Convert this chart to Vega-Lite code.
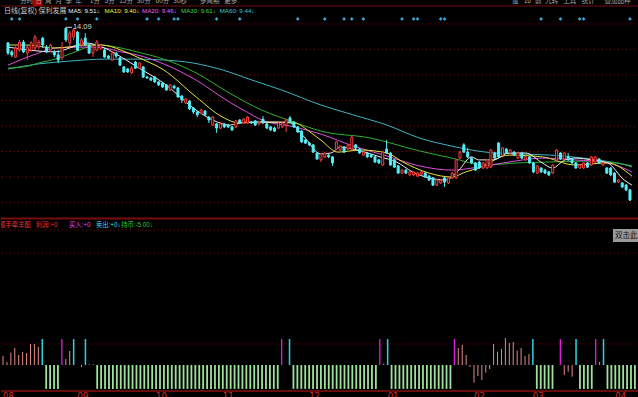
{
"$schema": "https://vega.github.io/schema/vega-lite/v6.json",
"background": "#000000",
"padding": 0,
"spacing": 0,
"config": {"view": {"stroke": null}, "text": {"font": "Liberation Sans, Noto Sans CJK SC"}},
"datasets": {
"candles": [
{"i":0,"o":13.57,"h":13.6,"l":13.17,"c":13.23},{"i":1,"o":13.27,"h":13.33,"l":13.1,"c":13.17},{"i":2,"o":13.1,"h":13.47,"l":13.07,"c":13.4},{"i":3,"o":13.33,"h":13.67,"l":13.27,"c":13.6},{"i":4,"o":13.6,"h":13.67,"l":13.23,"c":13.27},{"i":5,"o":13.23,"h":13.5,"l":13.0,"c":13.43},{"i":6,"o":13.33,"h":13.63,"l":13.27,"c":13.57},{"i":7,"o":13.4,"h":13.83,"l":13.33,"c":13.77},{"i":8,"o":13.43,"h":13.67,"l":13.37,"c":13.6},{"i":9,"o":13.73,"h":13.77,"l":13.4,"c":13.5},
{"i":10,"o":13.43,"h":13.5,"l":13.23,"c":13.27},{"i":11,"o":13.33,"h":13.53,"l":13.27,"c":13.5},{"i":12,"o":13.27,"h":13.33,"l":13.1,"c":13.17},{"i":13,"o":13.17,"h":13.33,"l":12.9,"c":13.0},{"i":14,"o":13.07,"h":13.6,"l":13.0,"c":13.4},{"i":15,"o":14.05,"h":14.09,"l":13.6,"c":13.67},{"i":16,"o":13.57,"h":13.97,"l":13.43,"c":13.9},{"i":17,"o":13.77,"h":14.07,"l":13.67,"c":14.0},{"i":18,"o":13.93,"h":13.97,"l":13.3,"c":13.33},{"i":19,"o":13.5,"h":13.73,"l":13.43,"c":13.67},
{"i":20,"o":13.73,"h":13.9,"l":13.47,"c":13.5},{"i":21,"o":13.5,"h":13.53,"l":13.2,"c":13.23},{"i":22,"o":13.23,"h":13.5,"l":13.1,"c":13.43},{"i":23,"o":13.33,"h":13.67,"l":13.3,"c":13.6},{"i":24,"o":13.4,"h":13.53,"l":13.33,"c":13.5},{"i":25,"o":13.33,"h":13.4,"l":13.07,"c":13.1},{"i":26,"o":13.13,"h":13.17,"l":13.03,"c":13.07},{"i":27,"o":13.0,"h":13.3,"l":12.97,"c":13.23},{"i":28,"o":13.23,"h":13.27,"l":13.07,"c":13.13},{"i":29,"o":13.07,"h":13.1,"l":12.8,"c":12.83},
{"i":30,"o":12.77,"h":12.8,"l":12.57,"c":12.6},{"i":31,"o":12.7,"h":12.73,"l":12.57,"c":12.6},{"i":32,"o":12.57,"h":12.8,"l":12.53,"c":12.73},{"i":33,"o":12.93,"h":12.97,"l":12.7,"c":12.73},{"i":34,"o":12.73,"h":12.93,"l":12.7,"c":12.9},{"i":35,"o":12.77,"h":12.8,"l":12.4,"c":12.43},{"i":36,"o":12.43,"h":12.47,"l":12.37,"c":12.4},{"i":37,"o":12.4,"h":12.43,"l":12.3,"c":12.33},{"i":38,"o":12.43,"h":12.47,"l":12.23,"c":12.27},{"i":39,"o":12.27,"h":12.3,"l":12.13,"c":12.17},
{"i":40,"o":12.23,"h":12.27,"l":12.07,"c":12.1},{"i":41,"o":12.17,"h":12.2,"l":11.97,"c":12.0},{"i":42,"o":12.0,"h":12.2,"l":11.97,"c":12.17},{"i":43,"o":12.13,"h":12.17,"l":12.03,"c":12.07},{"i":44,"o":12.07,"h":12.1,"l":11.73,"c":11.77},{"i":45,"o":11.8,"h":11.83,"l":11.57,"c":11.67},{"i":46,"o":11.57,"h":11.73,"l":11.53,"c":11.7},{"i":47,"o":11.63,"h":11.67,"l":11.33,"c":11.37},{"i":48,"o":11.4,"h":11.43,"l":11.2,"c":11.27},{"i":49,"o":11.27,"h":11.3,"l":11.1,"c":11.17},
{"i":50,"o":11.23,"h":11.37,"l":11.2,"c":11.33},{"i":51,"o":11.3,"h":11.33,"l":11.13,"c":11.17},{"i":52,"o":11.1,"h":11.13,"l":10.9,"c":11.0},{"i":53,"o":10.83,"h":11.13,"l":10.8,"c":11.1},{"i":54,"o":10.87,"h":10.9,"l":10.57,"c":10.73},{"i":55,"o":10.73,"h":10.93,"l":10.7,"c":10.87},{"i":56,"o":10.87,"h":10.9,"l":10.73,"c":10.77},{"i":57,"o":10.83,"h":10.87,"l":10.73,"c":10.77},{"i":58,"o":10.77,"h":10.8,"l":10.63,"c":10.67},{"i":59,"o":10.77,"h":11.0,"l":10.73,"c":10.97},
{"i":60,"o":11.0,"h":11.03,"l":10.87,"c":10.9},{"i":61,"o":10.9,"h":11.07,"l":10.87,"c":11.03},{"i":62,"o":10.9,"h":11.13,"l":10.87,"c":11.1},{"i":63,"o":10.93,"h":10.97,"l":10.87,"c":10.9},{"i":64,"o":10.97,"h":11.0,"l":10.8,"c":10.83},{"i":65,"o":10.87,"h":10.97,"l":10.83,"c":10.93},{"i":66,"o":11.03,"h":11.13,"l":10.87,"c":10.9},{"i":67,"o":10.87,"h":10.9,"l":10.7,"c":10.73},{"i":68,"o":10.77,"h":10.8,"l":10.63,"c":10.67},{"i":69,"o":10.73,"h":10.77,"l":10.6,"c":10.63},
{"i":70,"o":10.73,"h":10.93,"l":10.7,"c":10.9},{"i":71,"o":10.77,"h":10.93,"l":10.73,"c":10.9},{"i":72,"o":10.83,"h":11.03,"l":10.6,"c":11.0},{"i":73,"o":11.07,"h":11.13,"l":10.9,"c":10.93},{"i":74,"o":10.93,"h":10.97,"l":10.73,"c":10.77},{"i":75,"o":10.77,"h":10.8,"l":10.57,"c":10.6},{"i":76,"o":10.63,"h":10.67,"l":10.23,"c":10.27},{"i":77,"o":10.33,"h":10.37,"l":10.2,"c":10.23},{"i":78,"o":10.23,"h":10.27,"l":10.13,"c":10.17},{"i":79,"o":10.17,"h":10.2,"l":9.9,"c":9.93},
{"i":80,"o":9.9,"h":9.93,"l":9.67,"c":9.7},{"i":81,"o":9.67,"h":9.9,"l":9.6,"c":9.87},{"i":82,"o":9.77,"h":9.93,"l":9.73,"c":9.9},{"i":83,"o":9.83,"h":9.87,"l":9.73,"c":9.77},{"i":84,"o":9.77,"h":9.8,"l":9.47,"c":9.57},{"i":85,"o":10.03,"h":10.3,"l":10.0,"c":10.27},{"i":86,"o":10.0,"h":10.17,"l":9.97,"c":10.13},{"i":87,"o":10.1,"h":10.13,"l":9.9,"c":9.93},{"i":88,"o":10.03,"h":10.2,"l":10.0,"c":10.17},{"i":89,"o":10.03,"h":10.47,"l":10.0,"c":10.43},
{"i":90,"o":10.17,"h":10.2,"l":10.03,"c":10.07},{"i":91,"o":10.03,"h":10.07,"l":9.87,"c":9.9},{"i":92,"o":9.83,"h":9.97,"l":9.8,"c":9.93},{"i":93,"o":9.9,"h":9.93,"l":9.73,"c":9.77},{"i":94,"o":9.83,"h":9.87,"l":9.73,"c":9.77},{"i":95,"o":9.77,"h":9.8,"l":9.57,"c":9.6},{"i":96,"o":9.67,"h":9.7,"l":9.53,"c":9.57},{"i":97,"o":9.5,"h":9.97,"l":9.47,"c":9.93},{"i":98,"o":10.03,"h":10.33,"l":9.87,"c":9.9},{"i":99,"o":9.9,"h":9.93,"l":9.47,"c":9.5},
{"i":100,"o":9.67,"h":9.7,"l":9.4,"c":9.43},{"i":101,"o":9.47,"h":9.5,"l":9.2,"c":9.23},{"i":102,"o":9.23,"h":9.37,"l":9.2,"c":9.33},{"i":103,"o":9.33,"h":9.37,"l":9.2,"c":9.23},{"i":104,"o":9.17,"h":9.3,"l":9.13,"c":9.27},{"i":105,"o":9.17,"h":9.3,"l":9.13,"c":9.27},{"i":106,"o":9.13,"h":9.27,"l":9.1,"c":9.23},{"i":107,"o":9.2,"h":9.3,"l":9.17,"c":9.27},{"i":108,"o":9.23,"h":9.27,"l":9.07,"c":9.1},{"i":109,"o":9.13,"h":9.17,"l":8.97,"c":9.0},
{"i":110,"o":9.07,"h":9.1,"l":8.8,"c":8.83},{"i":111,"o":8.83,"h":9.03,"l":8.8,"c":9.0},{"i":112,"o":8.9,"h":9.03,"l":8.87,"c":9.0},{"i":113,"o":9.07,"h":9.1,"l":8.77,"c":8.93},{"i":114,"o":8.9,"h":9.1,"l":8.87,"c":9.07},{"i":115,"o":9.07,"h":9.27,"l":9.03,"c":9.23},{"i":116,"o":9.07,"h":9.7,"l":9.03,"c":9.67},{"i":117,"o":9.73,"h":9.97,"l":9.7,"c":9.93},{"i":118,"o":10.17,"h":10.23,"l":9.9,"c":9.93},{"i":119,"o":9.93,"h":10.07,"l":9.73,"c":9.77},
{"i":120,"o":9.73,"h":9.77,"l":9.53,"c":9.57},{"i":121,"o":9.57,"h":9.6,"l":9.3,"c":9.33},{"i":122,"o":9.6,"h":9.63,"l":9.37,"c":9.4},{"i":123,"o":9.4,"h":9.6,"l":9.37,"c":9.57},{"i":124,"o":9.4,"h":9.7,"l":9.37,"c":9.67},{"i":125,"o":9.43,"h":10.03,"l":9.4,"c":10.0},{"i":126,"o":9.9,"h":9.93,"l":9.7,"c":9.73},{"i":127,"o":10.23,"h":10.27,"l":9.73,"c":9.77},{"i":128,"o":9.83,"h":10.1,"l":9.8,"c":10.07},{"i":129,"o":10.03,"h":10.07,"l":9.87,"c":9.9},
{"i":130,"o":9.9,"h":10.03,"l":9.87,"c":10.0},{"i":131,"o":9.93,"h":9.97,"l":9.8,"c":9.83},{"i":132,"o":9.73,"h":9.93,"l":9.7,"c":9.9},{"i":133,"o":9.9,"h":9.93,"l":9.7,"c":9.73},{"i":134,"o":9.67,"h":9.8,"l":9.63,"c":9.77},{"i":135,"o":9.77,"h":9.8,"l":9.53,"c":9.57},{"i":136,"o":9.57,"h":9.6,"l":9.23,"c":9.27},{"i":137,"o":9.23,"h":9.5,"l":9.2,"c":9.47},{"i":138,"o":9.4,"h":9.43,"l":9.23,"c":9.27},{"i":139,"o":9.33,"h":9.37,"l":9.2,"c":9.23},
{"i":140,"o":9.27,"h":9.3,"l":9.13,"c":9.17},{"i":141,"o":9.23,"h":9.53,"l":9.2,"c":9.5},{"i":142,"o":9.67,"h":10.03,"l":9.63,"c":10.0},{"i":143,"o":9.9,"h":9.93,"l":9.67,"c":9.7},{"i":144,"o":9.7,"h":9.93,"l":9.67,"c":9.9},{"i":145,"o":9.77,"h":9.9,"l":9.63,"c":9.67},{"i":146,"o":9.7,"h":9.73,"l":9.53,"c":9.57},{"i":147,"o":9.57,"h":9.6,"l":9.37,"c":9.4},{"i":148,"o":9.4,"h":9.53,"l":9.37,"c":9.5},{"i":149,"o":9.4,"h":9.6,"l":9.37,"c":9.57},
{"i":150,"o":9.57,"h":9.6,"l":9.4,"c":9.43},{"i":151,"o":9.5,"h":9.8,"l":9.47,"c":9.77},{"i":152,"o":9.6,"h":9.8,"l":9.57,"c":9.77},{"i":153,"o":9.7,"h":9.73,"l":9.53,"c":9.57},{"i":154,"o":9.5,"h":9.6,"l":9.47,"c":9.57},{"i":155,"o":9.4,"h":9.43,"l":9.2,"c":9.23},{"i":156,"o":9.4,"h":9.43,"l":9.13,"c":9.17},{"i":157,"o":9.23,"h":9.27,"l":8.9,"c":8.93},{"i":158,"o":8.93,"h":9.03,"l":8.9,"c":9.0},{"i":159,"o":8.9,"h":8.93,"l":8.73,"c":8.77},
{"i":160,"o":8.83,"h":8.87,"l":8.63,"c":8.67},{"i":161,"o":8.67,"h":8.7,"l":8.3,"c":8.33}
],
"ma": [
{"m":"MA60","i":0,"v":12.7},{"m":"MA60","i":7.9,"v":12.87},{"m":"MA60","i":16.6,"v":12.97},{"m":"MA60","i":25,"v":13.03},{"m":"MA60","i":33.4,"v":13.03},{"m":"MA60","i":40.3,"v":13.0},{"m":"MA60","i":47.9,"v":12.9},{"m":"MA60","i":55.5,"v":12.67},{"m":"MA60","i":63.2,"v":12.33},{"m":"MA60","i":70.8,"v":12.0},{"m":"MA60","i":81,"v":11.5},{"m":"MA60","i":89.4,"v":11.17},{"m":"MA60","i":98.1,"v":10.83},{"m":"MA60","i":106.5,"v":10.4},{"m":"MA60","i":114.9,"v":10.13},{"m":"MA60","i":123.6,"v":9.93},{"m":"MA60","i":132,"v":9.87},{"m":"MA60","i":140.4,"v":9.83},{"m":"MA60","i":149,"v":9.73},{"m":"MA60","i":157.5,"v":9.57},{"m":"MA60","i":161.5,"v":9.47},
{"m":"MA30","i":0,"v":12.73},{"m":"MA30","i":4.6,"v":12.78},{"m":"MA30","i":7.9,"v":12.9},{"m":"MA30","i":12.2,"v":13.03},{"m":"MA30","i":16.6,"v":13.23},{"m":"MA30","i":20.6,"v":13.43},{"m":"MA30","i":23.2,"v":13.5},{"m":"MA30","i":29.3,"v":13.4},{"m":"MA30","i":33.4,"v":13.27},{"m":"MA30","i":40.3,"v":13.03},{"m":"MA30","i":48.7,"v":12.57},{"m":"MA30","i":57.3,"v":11.9},{"m":"MA30","i":65.7,"v":11.33},{"m":"MA30","i":74.1,"v":10.93},{"m":"MA30","i":81,"v":10.63},{"m":"MA30","i":93.8,"v":10.4},{"m":"MA30","i":106.5,"v":9.97},{"m":"MA30","i":114.9,"v":9.73},{"m":"MA30","i":123.6,"v":9.5},{"m":"MA30","i":132,"v":9.57},{"m":"MA30","i":140.4,"v":9.6},{"m":"MA30","i":149,"v":9.63},{"m":"MA30","i":157.5,"v":9.57},{"m":"MA30","i":161.5,"v":9.43},
{"m":"MA20","i":0,"v":12.83},{"m":"MA20","i":7.9,"v":13.23},{"m":"MA20","i":12.2,"v":13.4},{"m":"MA20","i":20.6,"v":13.43},{"m":"MA20","i":25,"v":13.4},{"m":"MA20","i":29.3,"v":13.27},{"m":"MA20","i":33.4,"v":13.17},{"m":"MA20","i":40.3,"v":12.87},{"m":"MA20","i":48.7,"v":12.33},{"m":"MA20","i":57.3,"v":11.6},{"m":"MA20","i":61.4,"v":11.3},{"m":"MA20","i":65.7,"v":11.0},{"m":"MA20","i":74.1,"v":10.77},{"m":"MA20","i":81,"v":10.53},{"m":"MA20","i":89.4,"v":10.13},{"m":"MA20","i":98.1,"v":9.8},{"m":"MA20","i":106.5,"v":9.47},{"m":"MA20","i":114.9,"v":9.33},{"m":"MA20","i":121.8,"v":9.43},{"m":"MA20","i":129.7,"v":9.6},{"m":"MA20","i":138.3,"v":9.73},{"m":"MA20","i":146.8,"v":9.67},{"m":"MA20","i":155.2,"v":9.57},{"m":"MA20","i":161.5,"v":9.27},
{"m":"MA10","i":0,"v":13.5},{"m":"MA10","i":4.6,"v":13.5},{"m":"MA10","i":12.2,"v":13.4},{"m":"MA10","i":20.6,"v":13.5},{"m":"MA10","i":24.2,"v":13.5},{"m":"MA10","i":29.3,"v":13.33},{"m":"MA10","i":33.4,"v":13.1},{"m":"MA10","i":40.3,"v":12.67},{"m":"MA10","i":48.7,"v":11.77},{"m":"MA10","i":55.5,"v":11.1},{"m":"MA10","i":59.9,"v":10.9},{"m":"MA10","i":65.7,"v":10.93},{"m":"MA10","i":74.1,"v":10.9},{"m":"MA10","i":78.5,"v":10.57},{"m":"MA10","i":81,"v":10.33},{"m":"MA10","i":85.4,"v":9.93},{"m":"MA10","i":91.2,"v":10.0},{"m":"MA10","i":98.1,"v":9.9},{"m":"MA10","i":102.2,"v":9.6},{"m":"MA10","i":109,"v":9.23},{"m":"MA10","i":114.9,"v":9.1},{"m":"MA10","i":118.5,"v":9.27},{"m":"MA10","i":121.8,"v":9.4},{"m":"MA10","i":129.7,"v":9.83},{"m":"MA10","i":138.3,"v":9.77},{"m":"MA10","i":146.8,"v":9.5},{"m":"MA10","i":155.2,"v":9.57},{"m":"MA10","i":161.5,"v":9.13},
{"m":"MA5","i":0,"v":13.43},{"m":"MA5","i":12.2,"v":13.27},{"m":"MA5","i":16.6,"v":13.43},{"m":"MA5","i":19.9,"v":13.57},{"m":"MA5","i":25,"v":13.4},{"m":"MA5","i":29.3,"v":13.1},{"m":"MA5","i":33.4,"v":12.77},{"m":"MA5","i":40.3,"v":12.23},{"m":"MA5","i":48.7,"v":11.33},{"m":"MA5","i":53,"v":11.0},{"m":"MA5","i":57.3,"v":10.83},{"m":"MA5","i":61.4,"v":10.93},{"m":"MA5","i":65.7,"v":10.93},{"m":"MA5","i":72.6,"v":10.93},{"m":"MA5","i":76.7,"v":10.43},{"m":"MA5","i":81,"v":9.87},{"m":"MA5","i":83.6,"v":9.9},{"m":"MA5","i":86.1,"v":10.1},{"m":"MA5","i":90.4,"v":10.0},{"m":"MA5","i":96.3,"v":9.77},{"m":"MA5","i":100.6,"v":9.6},{"m":"MA5","i":104.7,"v":9.27},{"m":"MA5","i":109,"v":9.07},{"m":"MA5","i":113.4,"v":9.0},{"m":"MA5","i":116.7,"v":9.33},{"m":"MA5","i":120,"v":9.77},{"m":"MA5","i":121.8,"v":9.67},{"m":"MA5","i":125.6,"v":9.67},{"m":"MA5","i":129.7,"v":9.9},{"m":"MA5","i":134,"v":9.9},{"m":"MA5","i":138.3,"v":9.57},{"m":"MA5","i":140.9,"v":9.4},{"m":"MA5","i":144.2,"v":9.67},{"m":"MA5","i":146.8,"v":9.73},{"m":"MA5","i":151.1,"v":9.67},{"m":"MA5","i":155.2,"v":9.57},{"m":"MA5","i":159.5,"v":9.0},{"m":"MA5","i":161.5,"v":8.83}
],
"ind": [
{"i":0,"v":34.6,"k":"hold"},{"i":1,"v":11.5,"k":"hold"},{"i":2,"v":47.3,"k":"hold"},{"i":3,"v":65.4,"k":"hold"},{"i":4,"v":38.5,"k":"hold"},{"i":5,"v":50,"k":"hold"},{"i":6,"v":46.2,"k":"hold"},{"i":7,"v":80.8,"k":"hold"},{"i":8,"v":80.8,"k":"hold"},{"i":9,"v":69.2,"k":"hold"},
{"i":10,"v":100,"k":"sell"},{"i":11,"v":-92,"k":"out"},{"i":12,"v":-92,"k":"out"},{"i":13,"v":-92,"k":"out"},{"i":14,"v":-92,"k":"out"},{"i":15,"v":100,"k":"buy"},{"i":16,"v":23,"k":"hold"},{"i":17,"v":53.8,"k":"hold"},{"i":18,"v":100,"k":"sell"},{"i":19,"v":0,"k":"hold"},
{"i":20,"v":-8,"k":"hold"},{"i":21,"v":100,"k":"sell"},{"i":22,"v":3,"k":"hold"},{"i":23,"v":3,"k":"hold"},{"i":24,"v":-92,"k":"out"},{"i":25,"v":-92,"k":"out"},{"i":26,"v":-92,"k":"out"},{"i":27,"v":-92,"k":"out"},{"i":28,"v":-92,"k":"out"},{"i":29,"v":-92,"k":"out"},
{"i":30,"v":-92,"k":"out"},{"i":31,"v":-92,"k":"out"},{"i":32,"v":-92,"k":"out"},{"i":33,"v":-92,"k":"out"},{"i":34,"v":-92,"k":"out"},{"i":35,"v":-92,"k":"out"},{"i":36,"v":-92,"k":"out"},{"i":37,"v":-92,"k":"out"},{"i":38,"v":-92,"k":"out"},{"i":39,"v":-92,"k":"out"},
{"i":40,"v":-92,"k":"out"},{"i":41,"v":-92,"k":"out"},{"i":42,"v":-92,"k":"out"},{"i":43,"v":-92,"k":"out"},{"i":44,"v":-92,"k":"out"},{"i":45,"v":-92,"k":"out"},{"i":46,"v":-92,"k":"out"},{"i":47,"v":-92,"k":"out"},{"i":48,"v":-92,"k":"out"},{"i":49,"v":-92,"k":"out"},
{"i":50,"v":-92,"k":"out"},{"i":51,"v":-92,"k":"out"},{"i":52,"v":-92,"k":"out"},{"i":53,"v":-92,"k":"out"},{"i":54,"v":-92,"k":"out"},{"i":55,"v":-92,"k":"out"},{"i":56,"v":-92,"k":"out"},{"i":57,"v":-92,"k":"out"},{"i":58,"v":-92,"k":"out"},{"i":59,"v":-92,"k":"out"},
{"i":60,"v":-92,"k":"out"},{"i":61,"v":-92,"k":"out"},{"i":62,"v":-92,"k":"out"},{"i":63,"v":-92,"k":"out"},{"i":64,"v":-92,"k":"out"},{"i":65,"v":-92,"k":"out"},{"i":66,"v":-92,"k":"out"},{"i":67,"v":-92,"k":"out"},{"i":68,"v":-92,"k":"out"},{"i":69,"v":-92,"k":"out"},
{"i":70,"v":-92,"k":"out"},{"i":71,"v":100,"k":"buy"},{"i":72,"v":0,"k":"hold"},{"i":73,"v":100,"k":"sell"},{"i":74,"v":-92,"k":"out"},{"i":75,"v":-92,"k":"out"},{"i":76,"v":-92,"k":"out"},{"i":77,"v":-92,"k":"out"},{"i":78,"v":-92,"k":"out"},{"i":79,"v":-92,"k":"out"},
{"i":80,"v":-92,"k":"out"},{"i":81,"v":-92,"k":"out"},{"i":82,"v":-92,"k":"out"},{"i":83,"v":-92,"k":"out"},{"i":84,"v":-92,"k":"out"},{"i":85,"v":-92,"k":"out"},{"i":86,"v":-92,"k":"out"},{"i":87,"v":-92,"k":"out"},{"i":88,"v":-92,"k":"out"},{"i":89,"v":-92,"k":"out"},
{"i":90,"v":-92,"k":"out"},{"i":91,"v":-92,"k":"out"},{"i":92,"v":-92,"k":"out"},{"i":93,"v":-92,"k":"out"},{"i":94,"v":-92,"k":"out"},{"i":95,"v":-92,"k":"out"},{"i":96,"v":100,"k":"buy"},{"i":97,"v":5,"k":"hold"},{"i":98,"v":100,"k":"sell"},{"i":99,"v":-92,"k":"out"},
{"i":100,"v":-92,"k":"out"},{"i":101,"v":-92,"k":"out"},{"i":102,"v":-92,"k":"out"},{"i":103,"v":-92,"k":"out"},{"i":104,"v":-92,"k":"out"},{"i":105,"v":-92,"k":"out"},{"i":106,"v":-92,"k":"out"},{"i":107,"v":-92,"k":"out"},{"i":108,"v":-92,"k":"out"},{"i":109,"v":-92,"k":"out"},
{"i":110,"v":-92,"k":"out"},{"i":111,"v":-92,"k":"out"},{"i":112,"v":-92,"k":"out"},{"i":113,"v":-92,"k":"out"},{"i":114,"v":-92,"k":"out"},{"i":115,"v":100,"k":"buy"},{"i":116,"v":65.4,"k":"hold"},{"i":117,"v":76.9,"k":"hold"},{"i":118,"v":38.5,"k":"hold"},{"i":119,"v":-7.7,"k":"hold"},
{"i":120,"v":-68,"k":"hold"},{"i":121,"v":-42.3,"k":"hold"},{"i":122,"v":-57.7,"k":"hold"},{"i":123,"v":-29.6,"k":"hold"},{"i":124,"v":-15.4,"k":"hold"},{"i":125,"v":80.8,"k":"hold"},{"i":126,"v":51.2,"k":"hold"},{"i":127,"v":61.5,"k":"hold"},{"i":128,"v":103.8,"k":"hold"},{"i":129,"v":84.6,"k":"hold"},
{"i":130,"v":88.5,"k":"hold"},{"i":131,"v":55,"k":"hold"},{"i":132,"v":65.4,"k":"hold"},{"i":133,"v":34.6,"k":"hold"},{"i":134,"v":42.3,"k":"hold"},{"i":135,"v":100,"k":"sell"},{"i":136,"v":-92,"k":"out"},{"i":137,"v":-92,"k":"out"},{"i":138,"v":-92,"k":"out"},{"i":139,"v":-92,"k":"out"},
{"i":140,"v":-92,"k":"out"},{"i":141,"v":0,"k":"hold"},{"i":142,"v":100,"k":"buy"},{"i":143,"v":-38.5,"k":"hold"},{"i":144,"v":-25.6,"k":"hold"},{"i":145,"v":-45,"k":"hold"},{"i":146,"v":100,"k":"sell"},{"i":147,"v":-92,"k":"out"},{"i":148,"v":-92,"k":"out"},{"i":149,"v":-92,"k":"out"},
{"i":150,"v":-92,"k":"out"},{"i":151,"v":100,"k":"buy"},{"i":152,"v":11.5,"k":"hold"},{"i":153,"v":100,"k":"sell"},{"i":154,"v":-92,"k":"out"},{"i":155,"v":-92,"k":"out"},{"i":156,"v":-92,"k":"out"},{"i":157,"v":-92,"k":"out"},{"i":158,"v":-92,"k":"out"},{"i":159,"v":-92,"k":"out"},
{"i":160,"v":-92,"k":"out"},{"i":161,"v":-92,"k":"out"}
]
},
"vconcat": [
{
"width": 638,
"height": 216,
"resolve": {"scale": {"color": "independent"}},
"layer": [
{"data": {"values": [{"p":14.2},{"p":13.35},{"p":12.5},{"p":11.65},{"p":10.8},{"p":9.95},{"p":9.1},{"p":8.25}]},
 "mark": {"type": "rule", "color": "#6a1212", "strokeDash": [1, 3], "strokeWidth": 1},
 "encoding": {"y": {"field": "p", "type": "quantitative", "scale": {"domain": [7.8, 15.0], "nice": false, "zero": false}, "axis": null}}},
{"data": {"values": [{"p":14.8}]},
 "mark": {"type": "rule", "color": "#7a0c0c", "strokeWidth": 1},
 "encoding": {"y": {"field": "p", "type": "quantitative", "scale": {"domain": [7.8, 15.0], "nice": false, "zero": false}, "axis": null}}},
{"data": {"values": [{"a":6.4,"b":8.9,"p1":15.0,"p2":14.8}]},
 "mark": {"type": "rect", "color": "#b00000", "clip": true},
 "encoding": {"x": {"field": "a", "type": "quantitative", "scale": {"domain": [-0.51, 162.04], "nice": false, "zero": false}, "axis": null}, "x2": {"field": "b"},
  "y": {"field": "p1", "type": "quantitative", "scale": {"domain": [7.8, 15.0], "nice": false, "zero": false}, "axis": null}, "y2": {"field": "p2"}}},
{"data": {"values": [{"i":3.2,"t":"分时"},{"i":7.1,"t":"日"},{"i":9.6,"t":"周"},{"i":12.3,"t":"月"},{"i":14.9,"t":"季"},{"i":17.4,"t":"年"},{"i":21.2,"t":"1分"},{"i":25,"t":"5分"},{"i":28.8,"t":"15分"},{"i":33.4,"t":"30分"},{"i":38.2,"t":"60分"},{"i":42.8,"t":"30秒"},{"i":49.7,"t":"多周期"},{"i":56,"t":"更多"},{"i":130.5,"t":"度"},{"i":133.5,"t":"16"},{"i":136.4,"t":"前"},{"i":139.1,"t":"九转"},{"i":143.7,"t":"工具"},{"i":148.5,"t":"统计"},{"i":154.4,"t":"叠加品种"}]},
 "mark": {"type": "text", "align": "left", "baseline": "middle", "fontSize": 6.5, "color": "#a8a8a8", "clip": true},
 "encoding": {"x": {"field": "i", "type": "quantitative", "scale": {"domain": [-0.51, 162.04], "nice": false, "zero": false}, "axis": null},
  "y": {"datum": 14.975, "type": "quantitative", "scale": {"domain": [7.8, 15.0], "nice": false, "zero": false}, "axis": null},
  "text": {"field": "t"}}},
{"data": {"name": "ma"},
 "mark": {"type": "line", "strokeWidth": 1, "interpolate": "monotone", "clip": true},
 "encoding": {"x": {"field": "i", "type": "quantitative", "scale": {"domain": [-0.51, 162.04], "nice": false, "zero": false}, "axis": null},
  "y": {"field": "v", "type": "quantitative", "scale": {"domain": [7.8, 15.0], "nice": false, "zero": false}, "axis": null},
  "color": {"field": "m", "type": "nominal", "scale": {"domain": ["MA5","MA10","MA20","MA30","MA60"], "range": ["#f0f0f0","#e6e640","#e050e0","#2fb02f","#3fb4c4"]}, "legend": null}}},
{"data": {"name": "candles"},
 "mark": {"type": "rule", "strokeWidth": 1, "clip": true},
 "encoding": {"x": {"field": "i", "type": "quantitative", "scale": {"domain": [-0.51, 162.04], "nice": false, "zero": false}, "axis": null},
  "y": {"field": "l", "type": "quantitative", "scale": {"domain": [7.8, 15.0], "nice": false, "zero": false}, "axis": null},
  "y2": {"field": "h"},
  "color": {"condition": {"test": "datum.c >= datum.o", "value": "#ff3c3c"}, "value": "#54eef8"}}},
{"data": {"name": "candles"},
 "mark": {"type": "bar", "size": 2, "strokeWidth": 1, "clip": true},
 "encoding": {"x": {"field": "i", "type": "quantitative", "scale": {"domain": [-0.51, 162.04], "nice": false, "zero": false}, "axis": null},
  "y": {"field": "o", "type": "quantitative", "scale": {"domain": [7.8, 15.0], "nice": false, "zero": false}, "axis": null},
  "y2": {"field": "c"},
  "fill": {"condition": {"test": "datum.c >= datum.o", "value": "#000000"}, "value": "#54eef8"},
  "stroke": {"condition": {"test": "datum.c >= datum.o", "value": "#ff3c3c"}, "value": "#54eef8"}}},
{"data": {"values": [{"i":1},{"i":3},{"i":15},{"i":18},{"i":23},{"i":36},{"i":39},{"i":43},{"i":44},{"i":54},{"i":60},{"i":75},{"i":82},{"i":87},{"i":89},{"i":92},{"i":102},{"i":105},{"i":106},{"i":112},{"i":113},{"i":138},{"i":143},{"i":148},{"i":149},{"i":161}]},
 "mark": {"type": "point", "shape": "diamond", "filled": true, "size": 14, "color": "#3ca6d6", "opacity": 1, "clip": true},
 "encoding": {"x": {"field": "i", "type": "quantitative", "scale": {"domain": [-0.51, 162.04], "nice": false, "zero": false}, "axis": null},
  "y": {"datum": 14.37, "type": "quantitative", "scale": {"domain": [7.8, 15.0], "nice": false, "zero": false}, "axis": null}}},
{"data": {"values": [{"i":-1,"t":"日线(复权)"},{"i":7.9,"t":"保利发展"}]},
 "mark": {"type": "text", "align": "left", "baseline": "middle", "fontSize": 7, "color": "#c8c8c8", "clip": true},
 "encoding": {"x": {"field": "i", "type": "quantitative", "scale": {"domain": [-0.51, 162.04], "nice": false, "zero": false}, "axis": null},
  "y": {"datum": 14.65, "type": "quantitative", "scale": {"domain": [7.8, 15.0], "nice": false, "zero": false}, "axis": null},
  "text": {"field": "t"}}},
{"data": {"values": [{"i":15.6,"t":"MA5: 9.51↓","g":"MA5"},{"i":25,"t":"MA10: 9.40↓","g":"MA10"},{"i":34.7,"t":"MA20: 9.46↓","g":"MA20"},{"i":44.8,"t":"MA30: 9.61↓","g":"MA30"},{"i":54.8,"t":"MA60: 9.44↓","g":"MA60"}]},
 "mark": {"type": "text", "align": "left", "baseline": "middle", "fontSize": 6.2, "clip": true},
 "encoding": {"x": {"field": "i", "type": "quantitative", "scale": {"domain": [-0.51, 162.04], "nice": false, "zero": false}, "axis": null},
  "y": {"datum": 14.65, "type": "quantitative", "scale": {"domain": [7.8, 15.0], "nice": false, "zero": false}, "axis": null},
  "text": {"field": "t"},
  "color": {"field": "g", "type": "nominal", "scale": {"domain": ["MA5","MA10","MA20","MA30","MA60"], "range": ["#f0f0f0","#f0f040","#f060f0","#40d040","#40c0d8"]}, "legend": null}}},
{"data": {"values": [{"a":15,"b":16.6}]},
 "mark": {"type": "rule", "color": "#d0d0d0", "strokeWidth": 1},
 "encoding": {"x": {"field": "a", "type": "quantitative", "scale": {"domain": [-0.51, 162.04], "nice": false, "zero": false}, "axis": null}, "x2": {"field": "b"},
  "y": {"datum": 14.09, "type": "quantitative", "scale": {"domain": [7.8, 15.0], "nice": false, "zero": false}, "axis": null}}},
{"data": {"values": [{"i":16.8,"t":"14.09"}]},
 "mark": {"type": "text", "align": "left", "baseline": "middle", "fontSize": 7.5, "color": "#d8d8d8", "clip": true},
 "encoding": {"x": {"field": "i", "type": "quantitative", "scale": {"domain": [-0.51, 162.04], "nice": false, "zero": false}, "axis": null},
  "y": {"datum": 14.09, "type": "quantitative", "scale": {"domain": [7.8, 15.0], "nice": false, "zero": false}, "axis": null},
  "text": {"field": "t"}}}
]
},
{
"width": 638,
"height": 174,
"resolve": {"scale": {"color": "independent", "strokeWidth": "independent"}},
"layer": [
{"data": {"values": [{"v":563.5}]},
 "mark": {"type": "rule", "color": "#7a0c0c", "strokeWidth": 2},
 "encoding": {"y": {"field": "v", "type": "quantitative", "scale": {"domain": [-96.15, 573.1], "nice": false, "zero": false}, "axis": null}}},
{"data": {"values": [{"v":519.2},{"v":430.8},{"v":80.8}]},
 "mark": {"type": "rule", "color": "#6a1212", "strokeDash": [1, 3], "strokeWidth": 1},
 "encoding": {"y": {"field": "v", "type": "quantitative", "scale": {"domain": [-96.15, 573.1], "nice": false, "zero": false}, "axis": null}}},
{"data": {"name": "ind"},
 "mark": {"type": "rule", "clip": true},
 "encoding": {"x": {"field": "i", "type": "quantitative", "scale": {"domain": [-0.51, 162.04], "nice": false, "zero": false}, "axis": null},
  "y": {"field": "v", "type": "quantitative", "scale": {"domain": [-96.15, 573.1], "nice": false, "zero": false}, "axis": null},
  "y2": {"datum": 0},
  "color": {"field": "k", "type": "nominal", "scale": {"domain": ["hold","buy","sell","out"], "range": ["#e08c8c","#e020e0","#28d0e0","#9ee29a"]}, "legend": null},
  "strokeWidth": {"field": "k", "type": "nominal", "scale": {"domain": ["hold","buy","sell","out"], "range": [1, 1.8, 1.8, 1]}, "legend": null}}},
{"data": {"values": [{"i":-1,"t":"顺手牵羊图","g":"a"},{"i":8.4,"t":"利润:+0","g":"a"},{"i":16.8,"t":"买入:+0","g":"b"},{"i":23.7,"t":"卖出:+0↓","g":"c"},{"i":30.1,"t":"持币:-5.00↓","g":"d"}]},
 "mark": {"type": "text", "align": "left", "baseline": "middle", "fontSize": 6.3, "clip": true},
 "encoding": {"x": {"field": "i", "type": "quantitative", "scale": {"domain": [-0.51, 162.04], "nice": false, "zero": false}, "axis": null},
  "y": {"datum": 540.4, "type": "quantitative", "scale": {"domain": [-96.15, 573.1], "nice": false, "zero": false}, "axis": null},
  "text": {"field": "t"},
  "color": {"field": "g", "type": "nominal", "scale": {"domain": ["a","b","c","d"], "range": ["#f03030","#f040f0","#40d8e0","#30c030"]}, "legend": null}}},
{"data": {"values": [{"a":155.4,"b":162.5,"v1":523,"v2":473}]},
 "mark": {"type": "rect", "color": "#9a9a9a", "clip": true},
 "encoding": {"x": {"field": "a", "type": "quantitative", "scale": {"domain": [-0.51, 162.04], "nice": false, "zero": false}, "axis": null}, "x2": {"field": "b"},
  "y": {"field": "v1", "type": "quantitative", "scale": {"domain": [-96.15, 573.1], "nice": false, "zero": false}, "axis": null}, "y2": {"field": "v2"}}},
{"data": {"values": [{"i":155.9,"t":"双击此处"}]},
 "mark": {"type": "text", "align": "left", "baseline": "middle", "fontSize": 7.5, "color": "#111111", "clip": true},
 "encoding": {"x": {"field": "i", "type": "quantitative", "scale": {"domain": [-0.51, 162.04], "nice": false, "zero": false}, "axis": null},
  "y": {"datum": 498, "type": "quantitative", "scale": {"domain": [-96.15, 573.1], "nice": false, "zero": false}, "axis": null},
  "text": {"field": "t"}}}
]
},
{
"width": 638,
"height": 7,
"layer": [
{"data": {"values": [{"v":1}]},
 "mark": {"type": "rule", "color": "#8a1010", "strokeWidth": 1.5},
 "encoding": {"y": {"field": "v", "type": "quantitative", "scale": {"domain": [0, 1], "nice": false, "zero": false}, "axis": null}}},
{"data": {"values": [{"i":0,"t":"08"},{"i":19,"t":"09"},{"i":39,"t":"10"},{"i":56,"t":"11"},{"i":78,"t":"12"},{"i":98,"t":"01"},{"i":120,"t":"02"},{"i":135,"t":"03"},{"i":156,"t":"04"}]},
 "mark": {"type": "text", "align": "left", "baseline": "top", "fontSize": 8.5, "font": "DejaVu Sans", "color": "#d03030"},
 "encoding": {"x": {"field": "i", "type": "quantitative", "scale": {"domain": [-0.51, 162.04], "nice": false, "zero": false}, "axis": null},
  "y": {"datum": 0.85, "type": "quantitative", "scale": {"domain": [0, 1], "nice": false, "zero": false}, "axis": null},
  "text": {"field": "t"}}}
]
}
]
}
